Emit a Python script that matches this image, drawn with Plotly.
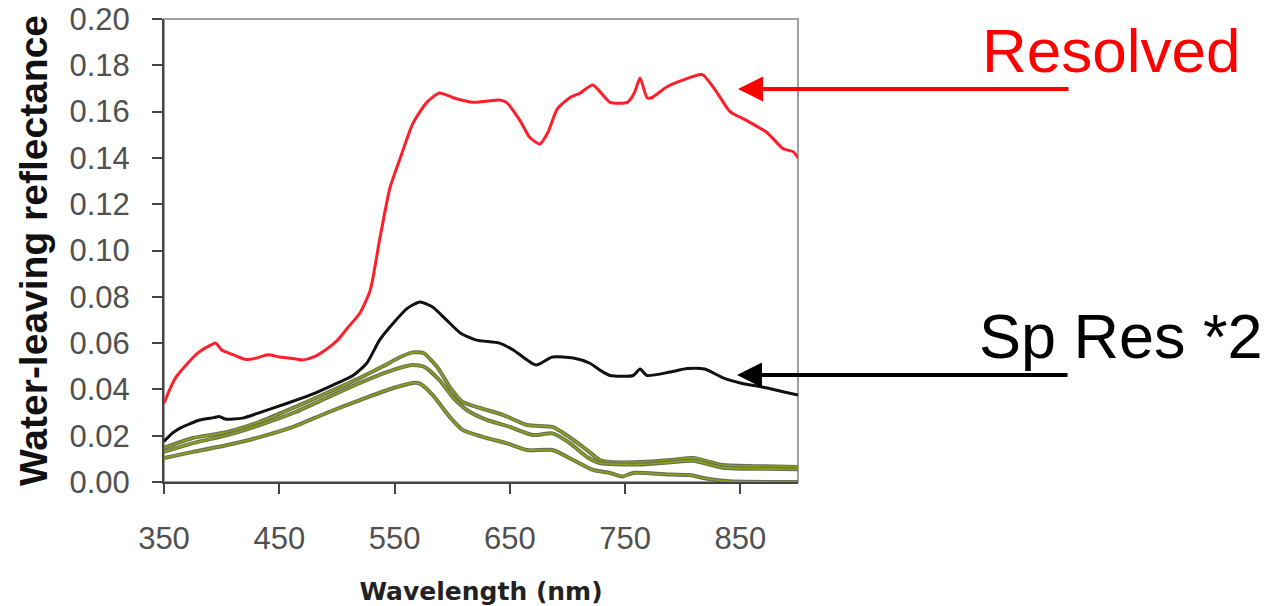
import plotly.graph_objects as go

# ---- data ----
resolved_wl = [350, 355, 360, 370, 380, 390, 395, 400, 410, 420, 430, 440, 450, 460, 470, 480, 490, 500,
               510, 520, 529, 537, 546, 555, 566, 578, 589, 601, 618, 630, 641, 647, 659, 667, 676, 683,
               691, 702, 711, 722, 737, 752, 758, 763, 769, 773, 786, 800, 817, 830, 841, 856, 873, 887,
               896, 900]
resolved_val = [0.034, 0.040, 0.045, 0.051, 0.056, 0.059, 0.060, 0.057, 0.055, 0.053, 0.0535, 0.055, 0.054,
                0.0535, 0.0527, 0.054, 0.057, 0.061, 0.067, 0.073, 0.083, 0.1045, 0.127, 0.140, 0.155,
                0.164, 0.168, 0.166, 0.164, 0.1645, 0.165, 0.164, 0.156, 0.149, 0.146, 0.151, 0.161,
                0.166, 0.168, 0.1715, 0.164, 0.164, 0.168, 0.1745, 0.166, 0.166, 0.1706, 0.1736, 0.176,
                0.168, 0.160, 0.156, 0.151, 0.144, 0.1426, 0.140]

spres_wl = [350, 357, 364, 381, 393, 398, 403, 418, 433, 457, 477, 497, 514, 526, 537, 549, 561, 572, 583,
            595, 607, 621, 641, 653, 665, 673, 687, 705, 719, 728, 737, 757, 763, 769, 789, 804, 819, 835,
            850, 869, 887, 900]
spres_val = [0.0175, 0.021, 0.0233, 0.0268, 0.0278, 0.0283, 0.0272, 0.0276, 0.030, 0.034, 0.0376, 0.042,
             0.046, 0.0514, 0.0613, 0.0687, 0.075, 0.0778, 0.0756, 0.070, 0.0644, 0.0613, 0.060, 0.057,
             0.0527, 0.0505, 0.054, 0.0536, 0.0514, 0.0484, 0.046, 0.046, 0.0488, 0.046, 0.0475, 0.049,
             0.0488, 0.045, 0.0428, 0.041, 0.039, 0.0376]

green1_wl = [350, 375, 405, 433, 462, 491, 520, 540, 555, 566, 575, 587, 598, 609, 624, 644, 665, 687, 699,
             717, 728, 737, 763, 790, 809, 835, 870, 900]
green1_val = [0.0147, 0.019, 0.0216, 0.026, 0.032, 0.0384, 0.045, 0.050, 0.054, 0.056, 0.0557, 0.0497,
              0.041, 0.0346, 0.032, 0.029, 0.0246, 0.0238, 0.0203, 0.0138, 0.0095, 0.0086, 0.0086,
              0.0095, 0.0104, 0.0073, 0.0068, 0.0065]

green2_wl = [350, 375, 405, 433, 462, 491, 520, 549, 566, 576, 589, 601, 613, 630, 650, 670, 687, 702, 717,
             728, 737, 763, 790, 809, 835, 870, 900]
green2_val = [0.013, 0.0168, 0.0203, 0.0246, 0.0298, 0.0363, 0.0428, 0.0484, 0.0505, 0.0497, 0.044,
              0.0363, 0.031, 0.0268, 0.0238, 0.0203, 0.021, 0.0168, 0.0108, 0.0082, 0.0078, 0.0076,
              0.0085, 0.0092, 0.0062, 0.0057, 0.0055]

green3_wl = [350, 375, 405, 433, 462, 491, 520, 549, 566, 572, 583, 598, 609, 627, 647, 665, 687, 705, 722,
             737, 748, 757, 790, 806, 820, 840, 900]
green3_val = [0.0104, 0.013, 0.016, 0.0194, 0.0238, 0.0298, 0.0354, 0.0406, 0.0428, 0.0425, 0.0376,
              0.028, 0.0225, 0.0194, 0.0168, 0.0138, 0.0138, 0.0095, 0.0052, 0.0039, 0.0024, 0.0039,
              0.0032, 0.003, 0.0015, 0.0003, 0.0]

x_ticks = [350, 450, 550, 650, 750, 850]
y_ticks = [0.00, 0.02, 0.04, 0.06, 0.08, 0.10, 0.12, 0.14, 0.16, 0.18, 0.20]

fig = go.Figure()

for name, wl, val in [("Green 1", green1_wl, green1_val),
                      ("Green 2", green2_wl, green2_val),
                      ("Green 3", green3_wl, green3_val)]:
    fig.add_trace(go.Scatter(x=wl, y=val, mode="lines", name=name + " outline", showlegend=False,
                             line=dict(color="#6d7050", width=4.0, shape="spline", smoothing=0.6),
                             hoverinfo="skip"))
    fig.add_trace(go.Scatter(x=wl, y=val, mode="lines", name=name, showlegend=False,
                             line=dict(color="#86a31c", width=1.7, shape="spline", smoothing=0.6)))

fig.add_trace(go.Scatter(x=spres_wl, y=spres_val, mode="lines", name="Sp Res *2", showlegend=False,
                         line=dict(color="#111111", width=3, shape="spline", smoothing=0.6)))
fig.add_trace(go.Scatter(x=resolved_wl, y=resolved_val, mode="lines", name="Resolved", showlegend=False,
                         line=dict(color="#ff1f2a", width=3, shape="spline", smoothing=0.6)))

tickfont = dict(family="Liberation Sans, Arial, sans-serif", size=31, color="#505050")

fig.update_layout(
    width=1268, height=606, autosize=False,
    margin=dict(l=164, r=470, t=19, b=124),
    plot_bgcolor="white", paper_bgcolor="white",
    showlegend=False,
    xaxis=dict(
        range=[350, 900], tickvals=x_ticks, ticks="outside", ticklen=10, tickwidth=1.5,
        tickcolor="#444444", showline=True, linecolor="#444444", linewidth=2, automargin=False,
        showgrid=False, zeroline=False, tickfont=tickfont, ticklabelstandoff=18,
        title=dict(text="Wavelength (nm)", standoff=33,
                   font=dict(family="DejaVu Sans, Verdana, sans-serif", size=25, color="#222222",
                             weight="bold")),
    ),
    yaxis=dict(
        range=[0, 0.2], tickvals=y_ticks, tickformat=".2f", ticks="outside", ticklen=10,
        tickwidth=1.5, tickcolor="#444444", showline=True, linecolor="#444444", linewidth=2,
        automargin=False,
        showgrid=False, zeroline=False, tickfont=tickfont, ticklabelstandoff=16,
        title=dict(text="Water-leaving reflectance", standoff=10,
                   font=dict(family="Liberation Sans, Arial, sans-serif", size=39, color="#111111",
                             weight="bold")),
    ),
    shapes=[dict(type="rect", xref="paper", yref="paper", x0=0, x1=1, y0=0, y1=1,
                 line=dict(color="#a0a0a0", width=2), layer="below")],
)

annot_font = "Liberation Sans, Arial, sans-serif"
fig.add_annotation(xref="paper", yref="paper", x=1.287, y=0.933, xanchor="left", yanchor="middle",
                   text="Resolved", showarrow=False,
                   font=dict(family=annot_font, size=62, color="#ff0000"))
fig.add_annotation(xref="paper", yref="paper", x=1.2823, y=0.315, xanchor="left", yanchor="middle",
                   text="Sp Res *2", showarrow=False,
                   font=dict(family=annot_font, size=63, color="#000000"))
fig.add_annotation(xref="paper", yref="paper", x=0.9054, y=0.8488, text="", showarrow=True,
                   ax=332, ay=0, arrowhead=2, arrowsize=1.25, arrowwidth=4, arrowcolor="#ff0000",
                   standoff=0)
fig.add_annotation(xref="paper", yref="paper", x=0.9038, y=0.2311, text="", showarrow=True,
                   ax=332, ay=0, arrowhead=2, arrowsize=1.25, arrowwidth=4, arrowcolor="#000000",
                   standoff=0)

fig.write_html("out.html")
